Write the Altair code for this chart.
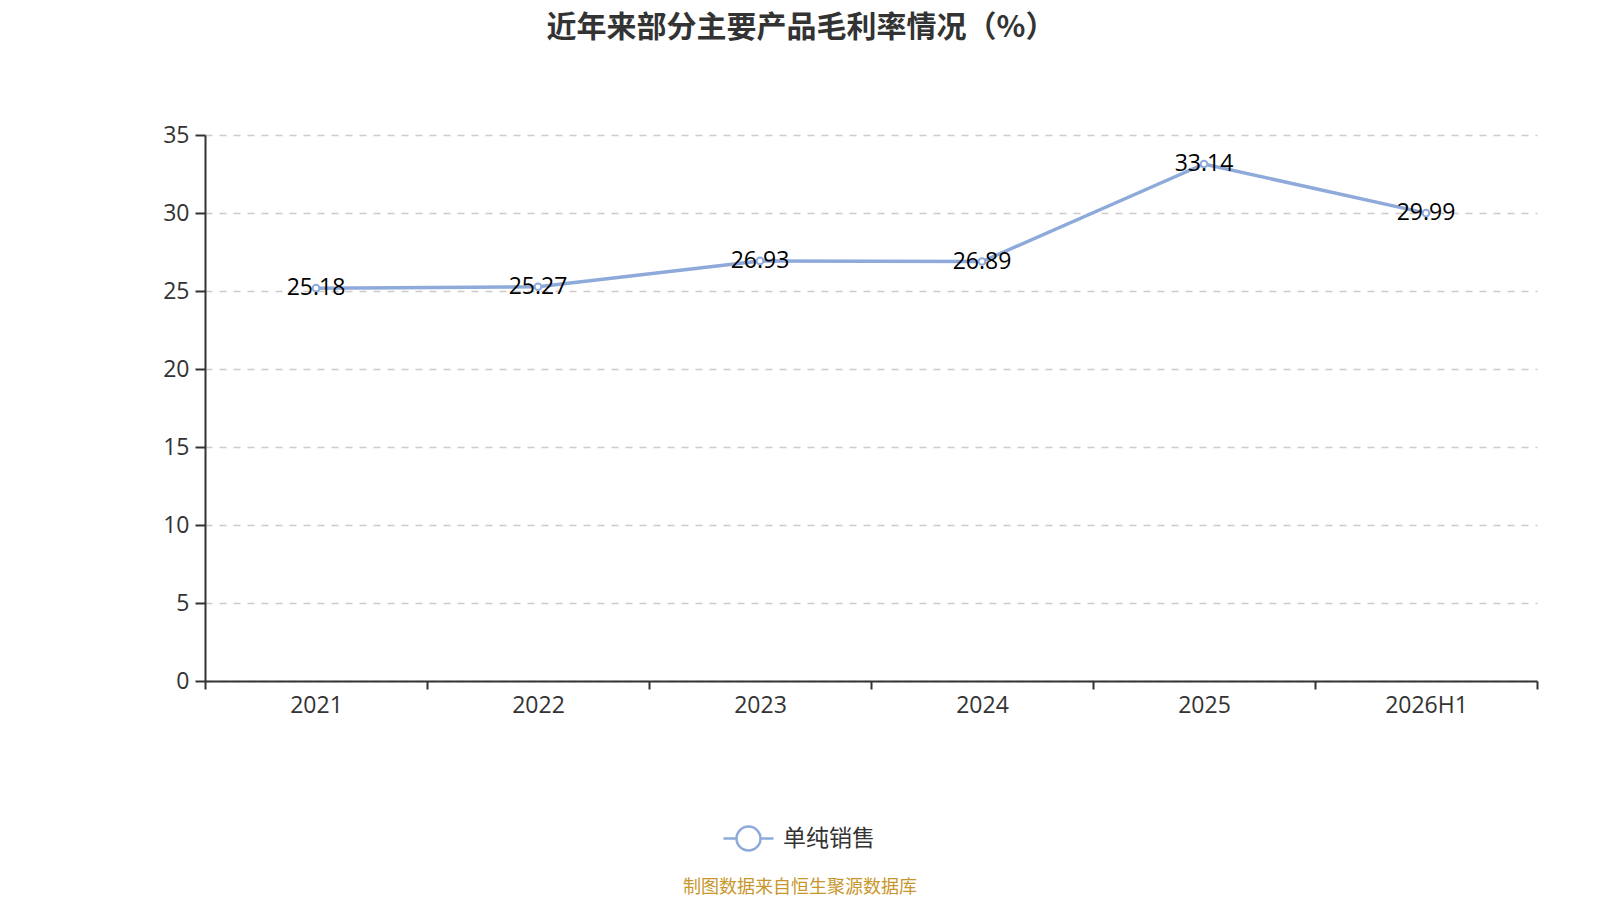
import altair as alt
import pandas as pd

categories = ["2021", "2022", "2023", "2024", "2025", "2026H1"]
values = [25.18, 25.27, 26.93, 26.89, 33.14, 29.99]
series_name = "单纯销售"
title_text = "近年来部分主要产品毛利率情况（%）"
footer_text = "制图数据来自恒生聚源数据库"

df = pd.DataFrame({"year": categories, "value": values, "series": [series_name] * len(categories)})

LINE_COLOR = "#8eaadb"
FONT = "Open Sans, Noto Sans CJK SC, sans-serif"
CJK = "Noto Sans CJK SC, sans-serif"

x_enc = alt.X("year:N", sort=categories, title=None,
              scale=alt.Scale(paddingInner=0, paddingOuter=0),
              axis=alt.Axis(labelAngle=0, tickBand="extent", labelFontSize=23, labelColor="#333",
                            labelFont=FONT, domainColor="#333", domainWidth=2, tickColor="#333",
                            tickWidth=2, tickSize=8, labelPadding=5, grid=False))
y_enc = alt.Y("value:Q", title=None,
              scale=alt.Scale(domain=[0, 35], nice=False),
              axis=alt.Axis(values=[0, 5, 10, 15, 20, 25, 30, 35], labelFontSize=23, labelColor="#333",
                            labelFont=FONT, domainColor="#333", domainWidth=2, tickColor="#333",
                            tickWidth=2, tickSize=10, labelPadding=6, grid=True, gridColor="#cccccc",
                            gridDash=[7, 7], gridWidth=1.5))

base = alt.Chart(df)

line = base.mark_line(strokeWidth=3.5).encode(
    x=x_enc, y=y_enc,
    color=alt.Color("series:N", scale=alt.Scale(domain=[series_name], range=[LINE_COLOR]),
                    legend=alt.Legend(title=None, orient="none", legendX=517, legendY=677,
                                      symbolType="M-1,0L-0.48,0M0.48,0L1,0M-0.48,0A0.48,0.48 0 1,0 0.48,0A0.48,0.48 0 1,0 -0.48,0",
                                      symbolSize=2500, symbolStrokeWidth=2.5, symbolFillColor="white",
                                      symbolStrokeColor=LINE_COLOR, labelFontSize=23, labelColor="#333",
                                      labelFont=CJK, labelOffset=8))
)

points = base.mark_point(filled=True, fill="white", stroke=LINE_COLOR, strokeWidth=2, size=45, opacity=1).encode(
    x=alt.X("year:N", sort=categories), y="value:Q"
)

labels = base.mark_text(fontSize=23, font=FONT, color="black", baseline="middle", align="center").encode(
    x=alt.X("year:N", sort=categories), y="value:Q", text=alt.Text("value:Q", format=".2f")
)

footer = alt.Chart(pd.DataFrame({"t": [footer_text]})).mark_text(
    fontSize=18, font=CJK, color="#c8962d", align="center", baseline="middle"
).encode(x=alt.value(595), y=alt.value(753), text="t:N")

chart = alt.layer(line, points, labels, footer).properties(
    width=1332, height=546,
    title=alt.TitleParams(title_text, fontSize=30, font=CJK, fontWeight="bold", color="#333",
                          anchor="middle", dx=-70, offset=81),
    padding={"left": 197, "top": 127, "right": 55, "bottom": 216},
    autosize=alt.AutoSizeParams(type="none"),
).configure_view(stroke=None)

chart.save("out.html", embed_options={"renderer": "svg", "actions": False})
